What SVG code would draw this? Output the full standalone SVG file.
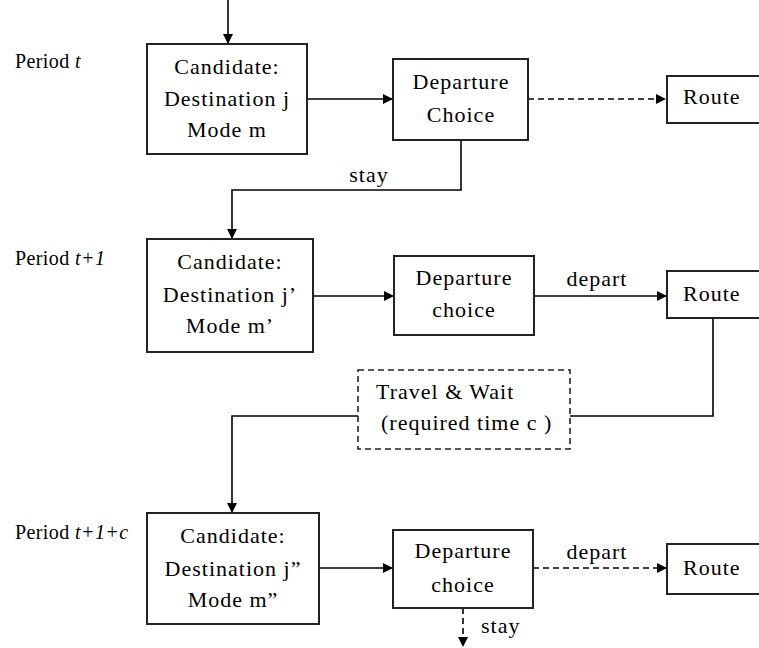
<svg xmlns="http://www.w3.org/2000/svg" width="759" height="648" viewBox="0 0 759 648">
<defs>
<marker id="arr" viewBox="0 0 10 10" refX="10" refY="5" markerWidth="10" markerHeight="10" markerUnits="userSpaceOnUse" orient="auto">
<path d="M0,0 L10,5 L0,10 z" fill="#000"/>
</marker>
<style>
text{font-family:'Liberation Serif','DejaVu Serif',serif;fill:#000}
.t{font-size:22px;letter-spacing:1px}
.c{text-anchor:middle}
.p{font-size:20px;letter-spacing:0.4px}
.box{fill:#fff;stroke:#222;stroke-width:2}
.dbox{fill:#fff;stroke:#222;stroke-width:1.6;stroke-dasharray:6 4}
.ln{fill:none;stroke:#000;stroke-width:1.6}
.dl{fill:none;stroke:#000;stroke-width:1.6;stroke-dasharray:6 4}
</style>
</defs>
<rect width="759" height="648" fill="#fff"/>
<g id="connectors">
<path class="ln" d="M228,0 V44" marker-end="url(#arr)"/>
<path class="ln" d="M307,99 H393" marker-end="url(#arr)"/>
<path class="dl" d="M528,99 H666" marker-end="url(#arr)"/>
<path class="ln" d="M461,140 V190 H232 V239" marker-end="url(#arr)"/>
<path class="ln" d="M313,296 H394" marker-end="url(#arr)"/>
<path class="ln" d="M534,296 H667" marker-end="url(#arr)"/>
<path class="ln" d="M713,318 V416 H570"/>
<path class="ln" d="M358,416 H232 V513" marker-end="url(#arr)"/>
<path class="ln" d="M319,568 H393" marker-end="url(#arr)"/>
<path class="dl" d="M533,568 H667" marker-end="url(#arr)"/>
<path class="dl" d="M463,608 V647" marker-end="url(#arr)"/>
<text class="t c" x="369" y="182">stay</text>
<text class="t c" x="597" y="286">depart</text>
<text class="t c" x="597" y="559">depart</text>
<text class="t" x="481" y="633">stay</text>
</g>
<g id="periods">
<text class="p" x="15" y="68">Period <tspan font-style="italic">t</tspan></text>
<text class="p" x="15" y="265">Period <tspan font-style="italic">t+1</tspan></text>
<text class="p" x="15" y="539">Period <tspan font-style="italic">t+1+c</tspan></text>
</g>
<g id="cand1">
<rect class="box" x="147" y="44" width="160" height="110"/>
<text class="t c" x="227" y="74">Candidate:</text>
<text class="t c" x="227" y="106">Destination j</text>
<text class="t c" x="227" y="137">Mode m</text>
</g>
<g id="dep1">
<rect class="box" x="393" y="59" width="135" height="81"/>
<text class="t c" x="461" y="89">Departure</text>
<text class="t c" x="461" y="122">Choice</text>
</g>
<g id="route1">
<rect class="box" x="667" y="76" width="100" height="47"/>
<text class="t" x="683" y="104">Route</text>
</g>
<g id="cand2">
<rect class="box" x="147" y="239" width="166" height="113"/>
<text class="t c" x="230" y="269">Candidate:</text>
<text class="t c" x="230" y="302">Destination j’</text>
<text class="t c" x="230" y="333">Mode m’</text>
</g>
<g id="dep2">
<rect class="box" x="394" y="256" width="140" height="79"/>
<text class="t c" x="464" y="285">Departure</text>
<text class="t c" x="464" y="317">choice</text>
</g>
<g id="route2">
<rect class="box" x="667" y="271" width="100" height="47"/>
<text class="t" x="683" y="301">Route</text>
</g>
<g id="travel">
<rect class="dbox" x="358" y="370" width="212" height="79"/>
<text class="t" x="376" y="399">Travel &amp; Wait</text>
<text class="t" x="381" y="430">(required time c )</text>
</g>
<g id="cand3">
<rect class="box" x="147" y="513" width="172" height="111"/>
<text class="t c" x="233" y="543">Candidate:</text>
<text class="t c" x="233" y="576">Destination j”</text>
<text class="t c" x="233" y="607">Mode m”</text>
</g>
<g id="dep3">
<rect class="box" x="393" y="530" width="140" height="78"/>
<text class="t c" x="463" y="558">Departure</text>
<text class="t c" x="463" y="592">choice</text>
</g>
<g id="route3">
<rect class="box" x="667" y="544" width="100" height="50"/>
<text class="t" x="683" y="575">Route</text>
</g>
</svg>
